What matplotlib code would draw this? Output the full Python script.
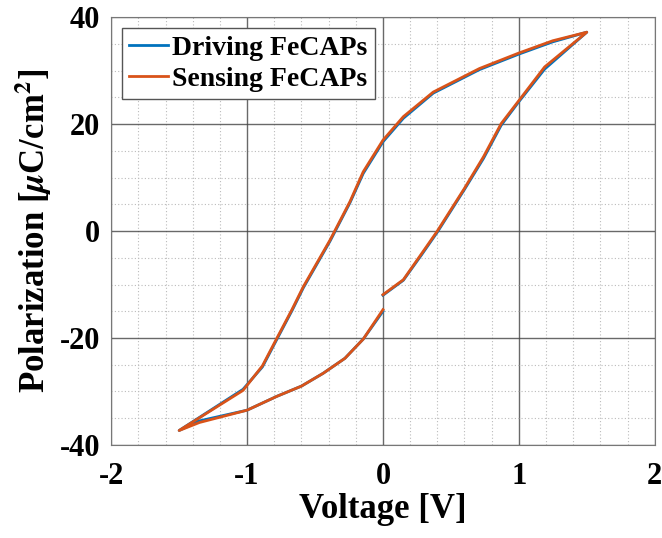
import matplotlib
matplotlib.use("Agg")
import matplotlib.pyplot as plt
from matplotlib.ticker import MultipleLocator

plt.rcParams["font.family"] = ["Liberation Serif", "DejaVu Serif"]
plt.rcParams["font.weight"] = "bold"
plt.rcParams["mathtext.fontset"] = "stix"
plt.rcParams["axes.unicode_minus"] = False

# hysteresis loops: voltage [V], polarization [uC/cm^2]
# each loop starts at 0 V, sweeps to +1.5 V, down to -1.5 V and back to 0 V
v_drive = [0.0, 0.15, 0.285, 0.4, 0.6, 0.74, 0.87, 1.0, 1.19, 1.5,
           1.25, 1.0, 0.71, 0.37, 0.15, 0.0, -0.145, -0.243, -0.39, -0.586,
           -0.67, -0.78, -0.887, -1.03, -1.5,
           -1.35, -1.0, -0.78, -0.6, -0.44, -0.28, -0.145, 0.0]
p_drive = [-12.0, -9.2, -4.4, -0.2, 7.8, 13.6, 19.8, 24.2, 30.3, 37.2,
           35.4, 33.1, 30.2, 25.8, 21.1, 16.7, 10.8, 5.3, -1.9, -10.6,
           -14.9, -20.2, -25.4, -29.6, -37.3,
           -35.5, -33.5, -30.9, -29.0, -26.6, -23.8, -20.2, -15.0]

v_sense = [0.0, 0.15, 0.285, 0.4, 0.6, 0.74, 0.87, 1.0, 1.19, 1.5,
           1.25, 1.0, 0.71, 0.37, 0.15, 0.0, -0.145, -0.243, -0.39, -0.586,
           -0.67, -0.78, -0.887, -1.03, -1.5,
           -1.35, -1.0, -0.78, -0.6, -0.44, -0.28, -0.145, 0.0]
p_sense = [-11.9, -9.1, -4.2, 0.0, 8.0, 13.9, 20.1, 24.4, 30.7, 37.2,
           35.6, 33.3, 30.4, 26.0, 21.4, 17.0, 11.1, 5.5, -1.7, -10.4,
           -14.7, -20.0, -25.2, -29.8, -37.3,
           -35.8, -33.5, -30.9, -29.0, -26.6, -23.8, -20.2, -14.7]

fig = plt.figure(figsize=(6.62, 5.38), dpi=100)
ax = fig.add_axes([0.168, 0.173, 0.821, 0.795])

ax.plot(v_drive, p_drive, color="#0072BD", lw=2, label="Driving FeCAPs")
ax.plot(v_sense, p_sense, color="#D95319", lw=2, label="Sensing FeCAPs")

ax.set_xlim(-2, 2)
ax.set_ylim(-40, 40)
ax.xaxis.set_major_locator(MultipleLocator(1))
ax.yaxis.set_major_locator(MultipleLocator(20))
ax.xaxis.set_minor_locator(MultipleLocator(0.2))
ax.yaxis.set_minor_locator(MultipleLocator(5))
ax.grid(which="major", color="#444444", lw=1, alpha=0.8)
ax.grid(which="minor", color="#bbbbbb", lw=0.8, ls=(0, (1, 2)))
ax.set_axisbelow(True)
ax.tick_params(which="both", length=0, labelsize=22)
ax.tick_params(axis="x", pad=12)
ax.tick_params(axis="y", pad=8)
for s in ax.spines.values():
    s.set_color("#777777")

ax.set_xlabel("Voltage [V]", fontsize=25, fontweight="bold", labelpad=2)
ax.set_ylabel("Polarization [$\\mu$C/cm$^2$]", fontsize=25, fontweight="bold",
              labelpad=4)

leg = ax.legend(loc="upper left", fontsize=20, fancybox=False, framealpha=1,
                edgecolor="#555555", handlelength=1.4, handletextpad=0.15,
                borderpad=0.25, labelspacing=0.2, borderaxespad=0.4)
leg.get_frame().set_linewidth(1)

fig.savefig("out.png", dpi=100)
